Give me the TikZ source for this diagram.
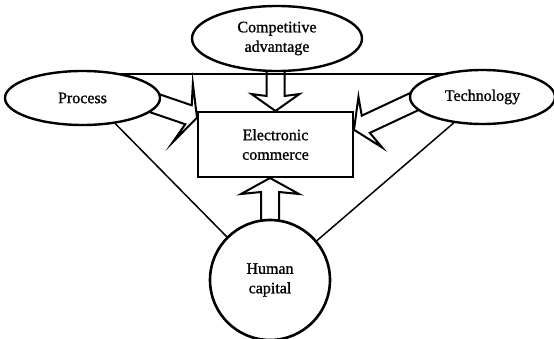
\documentclass[tikz,border=0pt]{standalone}
\usepackage{fontspec}
\setmainfont{Liberation Serif}[FakeBold=1]
\usetikzlibrary{shapes.geometric,calc,backgrounds}

% Hollow block arrow: #1 start, #2 tip, #3 head length, #4 head half-width,
% #5 neck distance from the tip, #6 shaft half-width
\newcommand\hollowarrow[6]{%
  \coordinate (ha-s) at ($(#1)!-6pt!(#2)$);
  \coordinate (ha-h) at ($(#2)!#3!(#1)$);
  \coordinate (ha-n) at ($(#2)!#5!(#1)$);
  \draw[blockarrow]
    ($(ha-s)!#6!90:(#2)$) -- ($(ha-n)!#6!90:(#2)$) -- ($(ha-h)!#4!90:(#2)$)
    -- (#2)
    -- ($(ha-h)!#4!-90:(#2)$) -- ($(ha-n)!#6!-90:(#2)$) -- ($(ha-s)!#6!-90:(#2)$);
}

\begin{document}
\begin{tikzpicture}[x=1pt,y=-1pt,
  every node/.style={font=\fontsize{16}{19.5}\selectfont, align=center, inner sep=1pt},
  oval/.style={ellipse, draw, line width=2.4pt, fill=white},
  hub/.style={rectangle, draw, line width=2pt, fill=white},
  ring/.style={circle, draw, line width=2.6pt, fill=white},
  blockarrow/.style={line width=2pt, line join=miter, miter limit=20},
  link/.style={line width=1.5pt}]
\useasboundingbox (0,0) rectangle (554,339);

% factors around the core
\node[oval, minimum width=170pt, minimum height=65pt] (ca) at (277,38.5) {Competitive\\advantage};
\node[oval, minimum width=155pt, minimum height=54pt] (proc) at (82.5,98) {Process};
\node[oval, minimum width=145pt, minimum height=54pt] (tech) at (482.5,97) {Technology};
\node[hub, minimum width=155pt, minimum height=65pt] (ec) at (275.5,144.5) {Electronic\\commerce};
\node[ring, minimum size=120pt] (hc) at (270,280) {Human\\capital};

% arrow end points on the core box
\coordinate (ca-s) at (ca.south -| ec.north);
\coordinate (ec-s) at (ec.south -| hc.north);
\coordinate (ec-w) at ($(ec.north west)!0.1!(ec.south west)$);
\coordinate (ec-e) at ($(ec.north east)!0.28!(ec.south east)$);
% ends of the top bar
\coordinate (bar-l) at ($(proc.north)!0.52!(proc.north east)$);
\coordinate (bar-r) at ($(tech.north)!0.68!(tech.north west)$);

\begin{pgfonlayer}{background}
  % top bar joining the side factors
  \draw[link] (bar-l) -- (bar-l -| bar-r);
  % side links to human capital
  \draw[link] (proc.-38) -- (hc.135);
  \draw[link] (tech.-138) -- (hc.40);
  % block arrows into electronic commerce
  \hollowarrow{ca-s}{ec.north}{17pt}{24pt}{15pt}{9pt}
  \hollowarrow{hc.north}{ec-s}{16pt}{29pt}{14pt}{9pt}
  \hollowarrow{proc.-5}{ec-w}{15pt}{31pt}{9pt}{10pt}
  \hollowarrow{tech.185}{ec-e}{18pt}{28pt}{13pt}{9.5pt}
\end{pgfonlayer}
\end{tikzpicture}
\end{document}
